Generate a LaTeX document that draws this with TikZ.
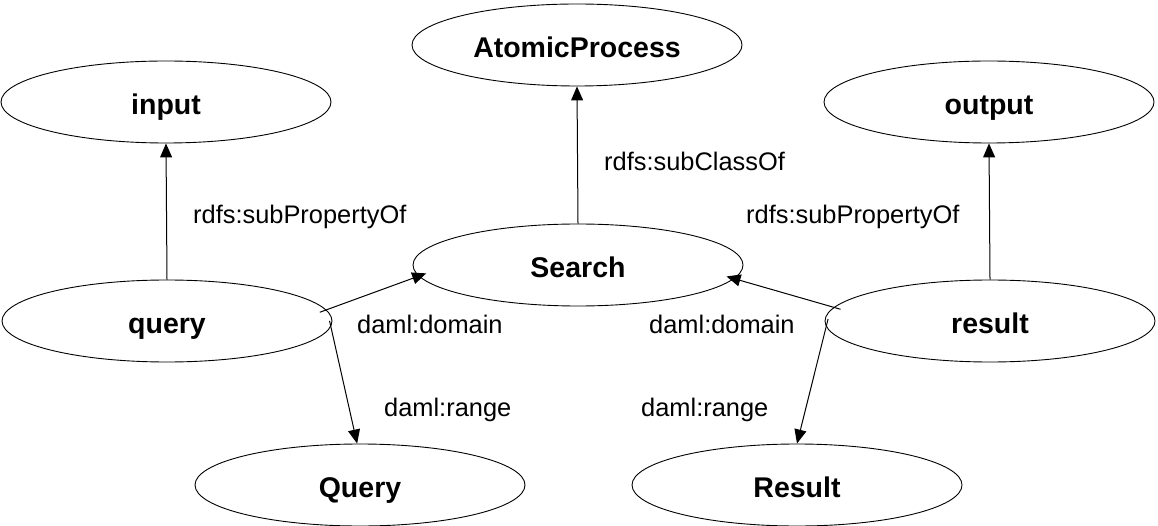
\documentclass[tikz,border=0pt]{standalone}
\usepackage{fontspec}
\setmainfont{Liberation Sans}
\usetikzlibrary{shapes.geometric,arrows.meta}
\begin{document}
\begin{tikzpicture}[x=1pt,y=-1pt,
  concept/.style={ellipse,draw,line width=0.9pt,minimum width=330pt,minimum height=82pt,
    inner sep=0pt,font=\fontsize{28.5}{34}\selectfont\bfseries,
    text height=28.5pt,text depth=3.4pt},
  rel/.style={-{Triangle[length=14pt,width=12pt]},line width=1pt},
  lbl/.style={anchor=base west,inner sep=0pt,font=\fontsize{25.4}{30}\selectfont}]
\useasboundingbox (0,0) rectangle (1158,526);

% classes and properties
\node[concept] (atomic) at (577,45)  {AtomicProcess};
\node[concept] (input)  at (166,102) {input};
\node[concept] (output) at (989,102) {output};
\node[concept] (search) at (578,265) {Search};
\node[concept] (query)  at (167,321) {query};
\node[concept] (result) at (990,321) {result};
\node[concept] (Query)  at (360,485) {Query};
\node[concept] (Result) at (797,485) {Result};

% relations
\draw[rel] (query.north)  -- (input.south);
\draw[rel] (search.north) -- (atomic.south);
\draw[rel] (result.north) -- (output.south);
\draw[rel,shorten <=-7pt,shorten >=-8pt] (query.4.75)    -- (search.184.5);
\draw[rel,shorten <=-7pt,shorten >=-8pt] (result.175.25) -- (search.355.5);
\draw[rel,shorten <=-6pt] (query.-2.9)    -- (Query.94);
\draw[rel,shorten <=-8pt] (result.182.25) -- (Result.90);

% relation labels
\node[lbl] (l1) at (193,224) {rdfs:subPropertyOf};
\node[lbl] (l2) at (604,171) {rdfs:subClassOf};
\node[lbl] (l3) at (746,224) {rdfs:subPropertyOf};
\node[lbl] (l4) at (357,334) {daml:domain};
\node[lbl] (l5) at (649,334) {daml:domain};
\node[lbl] (l6) at (384,416) {daml:range};
\node[lbl] (l7) at (641,416) {daml:range};
\end{tikzpicture}
\end{document}
